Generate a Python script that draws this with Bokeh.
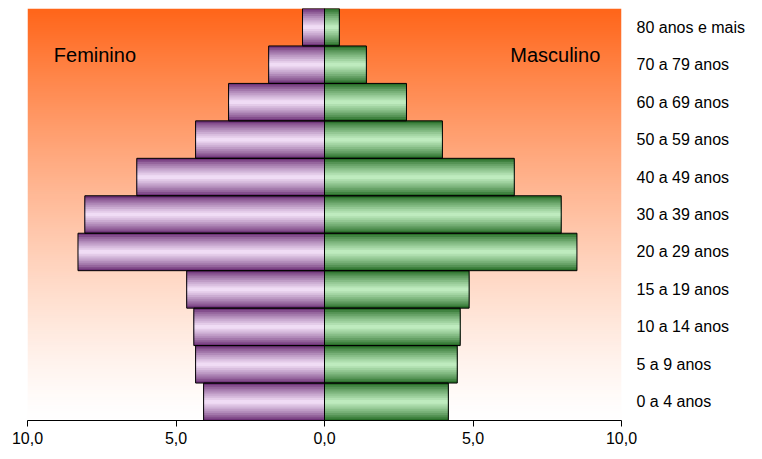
import numpy as np
from bokeh.plotting import figure
from bokeh.models import FactorRange, Range1d, LinearAxis, FixedTicker, CustomJSTickFormatter, CategoricalAxis
from bokeh.embed import file_html
from bokeh.resources import INLINE
from bokeh.core.properties import value

groups = ["0 a 4 anos", "5 a 9 anos", "10 a 14 anos", "15 a 19 anos", "20 a 29 anos",
          "30 a 39 anos", "40 a 49 anos", "50 a 59 anos", "60 a 69 anos", "70 a 79 anos", "80 anos e mais"]
feminino = [4.07, 4.34, 4.4, 4.64, 8.3, 8.07, 6.32, 4.34, 3.23, 1.88, 0.74]
masculino = [4.17, 4.47, 4.57, 4.87, 8.5, 7.97, 6.39, 3.97, 2.76, 1.41, 0.5]
ticks = [-10, -5, 0, 5, 10]

p = figure(width=748, height=451, output_backend="svg", toolbar_location=None,
           y_range=FactorRange(*groups, range_padding=0), x_range=Range1d(-10, 10),
           x_axis_location=None, y_axis_location=None,
           min_border_left=27, min_border_right=0, min_border_top=8, min_border_bottom=31)
p.grid.visible = False
p.outline_line_color = None
p.background_fill_color = "white"
p.border_fill_color = "white"

n = 200
t = np.linspace(0, 1, n)[:, None]
top = np.array([255, 102, 26]); bot = np.array([255, 255, 255])
w = t ** 1.3
col = (bot * (1 - w) + top * w).astype(np.uint32)
img = np.empty((n, 1), dtype=np.uint32)
view = img.view(dtype=np.uint8).reshape((n, 1, 4))
view[:, :, 0] = col[:, 0:1]; view[:, :, 1] = col[:, 1:2]; view[:, :, 2] = col[:, 2:3]; view[:, :, 3] = 255
p.image_rgba(image=[img], x=-10, y=0, dw=20, dh=len(groups), level="image")

neg = [-v for v in feminino]

def shade(dark, light, k):
    d = np.array(dark); l = np.array(light)
    c = (d + (l - d) * k).astype(int)
    return "#%02x%02x%02x" % tuple(c)

def bars(left, right, dark, light):
    steps = 10
    for i in range(steps):
        h = 1.0 - i / steps
        k = (i / (steps - 1)) ** 0.8
        p.hbar(y=groups, left=left, right=right, height=h, fill_color=shade(dark, light, k), line_color=None)
    p.hbar(y=groups, left=left, right=right, height=1.0, fill_color=None, line_color="black", line_width=1)

bars(neg, 0, (110, 50, 120), (240, 220, 245))
bars(0, masculino, (40, 110, 40), (190, 235, 190))

p.text(x=[-7.73], y=[("70 a 79 anos", 0.25)], text=["Feminino"], text_font=value("Liberation Sans"),
       text_font_size="15pt", text_align="center", text_baseline="middle", text_color="black")
p.text(x=[7.77], y=[("70 a 79 anos", 0.25)], text=["Masculino"], text_font=value("Liberation Sans"),
       text_font_size="15pt", text_align="center", text_baseline="middle", text_color="black")

xa = LinearAxis(ticker=FixedTicker(ticks=ticks),
                formatter=CustomJSTickFormatter(code="return Math.abs(tick).toFixed(1).replace('.', ',');"))
xa.minor_tick_line_color = None
xa.major_tick_in = 0; xa.major_tick_out = 6
xa.major_label_text_font = "Liberation Sans"; xa.major_label_text_font_size = "12pt"
xa.major_label_text_color = "black"
xa.axis_line_color = "black"
p.add_layout(xa, "below")

ya = CategoricalAxis()
ya.axis_line_color = None; ya.major_tick_line_color = None
ya.major_label_text_font = "Liberation Sans"; ya.major_label_text_font_size = "12pt"
ya.major_label_text_color = "black"
ya.major_label_standoff = 9
p.add_layout(ya, "right")

open("out.html", "w").write(file_html(p, INLINE))
